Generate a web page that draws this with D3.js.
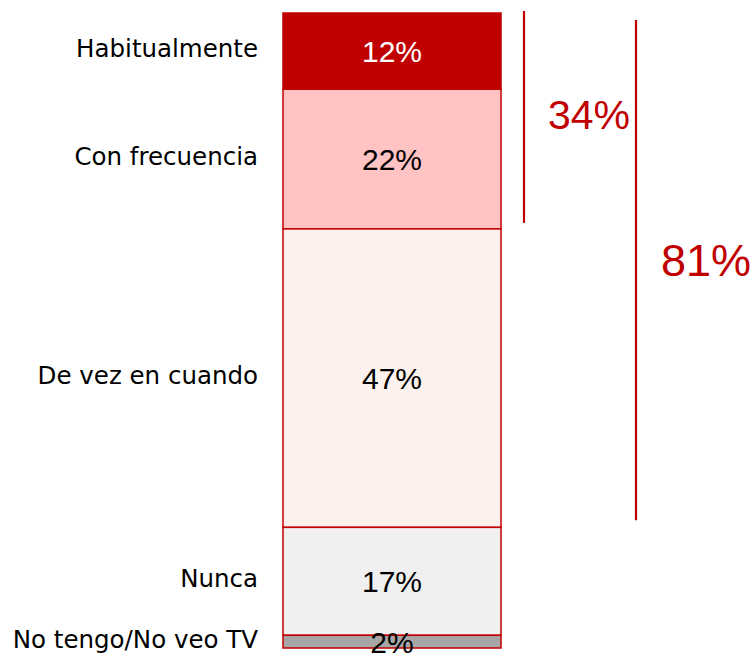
<!DOCTYPE html>
<html>
<head>
<meta charset="utf-8">
<script src="https://cdn.jsdelivr.net/npm/d3@7"></script>
<style>
  html, body { margin: 0; padding: 0; background: #fff; }
  svg { display: block; }
</style>
</head>
<body>
<svg id="chart" width="753" height="653"></svg>
<script>
// ---- data ----
const categories = ['Habitualmente', 'Con frecuencia', 'De vez en cuando', 'Nunca', 'No tengo/No veo TV'];
const values     = [12, 22, 47, 17, 2];
const fills      = ['#c00000', '#ffc3c3', '#fcf1ec', '#f0f0f0', '#a6a6a6'];
const labelInk   = ['#ffffff', '#000000', '#000000', '#000000', '#000000'];

// brackets: cumulative share of the first n categories
const bracketCounts = [2, 3];
const bracketLabels = ['34%', '81%'];

// ---- layout ----
const svg = d3.select('#chart');
const barX0 = 283, barX1 = 501;
const y = d3.scaleLinear().domain([0, 100]).range([13, 648]);

let acc = 0;
const stack = values.map((v, i) => {
  const d = { cat: categories[i], value: v, y0: acc, y1: acc + v, fill: fills[i], ink: labelInk[i] };
  acc += v;
  return d;
});

// segments
svg.append('g').selectAll('rect')
  .data(stack)
  .join('rect')
  .attr('x', barX0)
  .attr('y', d => y(d.y0))
  .attr('width', barX1 - barX0)
  .attr('height', d => y(d.y1) - y(d.y0))
  .attr('fill', d => d.fill)
  .attr('stroke', '#c00000')
  .attr('stroke-width', 1.5);

// value labels inside bar
svg.append('g').selectAll('text')
  .data(stack)
  .join('text')
  .attr('x', (barX0 + barX1) / 2)
  .attr('y', d => y((d.y0 + d.y1) / 2) + 11)
  .attr('text-anchor', 'middle')
  .attr('font-family', '"Liberation Sans", Arial, sans-serif')
  .attr('font-size', 30)
  .attr('fill', d => d.ink)
  .text(d => d.value + '%');

// category labels on the left
svg.append('g').selectAll('text')
  .data(stack)
  .join('text')
  .attr('x', 258)
  .attr('y', d => y((d.y0 + d.y1) / 2) + 6)
  .attr('text-anchor', 'end')
  .attr('font-family', '"DejaVu Sans", sans-serif')
  .attr('font-size', 24.5)
  .attr('fill', '#000')
  .text(d => d.cat);

// brackets on the right
const brackets = bracketCounts.map((n, i) => ({
  end: d3.sum(values.slice(0, n)),
  label: bracketLabels[i]
}));
const bracketStyle = [
  { x: 524, top: -2, bottom: -6, tx: 548, ty: 12, size: 41 },
  { x: 636, top: 7,  bottom: -7, tx: 661, ty: 6,  size: 45 }
];

const bg = svg.append('g');
brackets.forEach((b, i) => {
  const s = bracketStyle[i];
  const top = y(0) + s.top, bottom = y(b.end) + s.bottom;
  bg.append('line')
    .attr('x1', s.x).attr('x2', s.x)
    .attr('y1', top).attr('y2', bottom)
    .attr('stroke', '#c00000')
    .attr('stroke-width', 2.2);
  bg.append('text')
    .attr('x', s.tx)
    .attr('y', (top + bottom) / 2 + s.ty)
    .attr('font-family', '"Liberation Sans", Arial, sans-serif')
    .attr('font-size', s.size)
    .attr('fill', '#c00000')
    .text(b.label);
});
</script>
</body>
</html>
